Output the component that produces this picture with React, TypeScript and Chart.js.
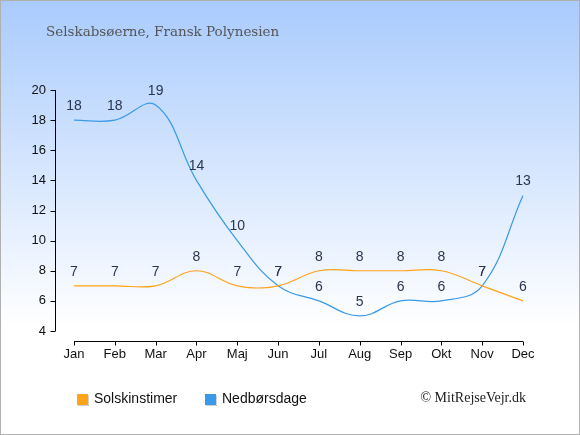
import React, { useEffect, useRef } from "react";
import { Chart, registerables } from "chart.js";

Chart.register(...registerables);

const TITLE = "Selskabsøerne, Fransk Polynesien";
const MONTHS = ["Jan", "Feb", "Mar", "Apr", "Maj", "Jun", "Jul", "Aug", "Sep", "Okt", "Nov", "Dec"];
const SUN_LABEL = "Solskinstimer";
const RAIN_LABEL = "Nedbørsdage";
const SUN = [7, 7, 7, 8, 7, 7, 8, 8, 8, 8, 7, 6];
const RAIN = [18, 18, 19, 14, 10, 7, 6, 5, 6, 6, 7, 13];
const Y_MIN = 4;
const Y_MAX = 20;
const Y_STEP = 2;
const COPYRIGHT = "© MitRejseVejr.dk";

const SUN_COLOR = "#ffa31a";
const RAIN_COLOR = "#3a9ae8";

const decorPlugin = {
  id: "decor",
  beforeDraw(chart: any) {
    const { ctx, width, height } = chart;
    ctx.save();
    const g = ctx.createLinearGradient(0, 0, 0, height);
    g.addColorStop(0, "#a9cbfd");
    g.addColorStop(0.75, "#ffffff");
    g.addColorStop(1, "#ffffff");
    ctx.fillStyle = g;
    ctx.fillRect(0, 0, width, height);
    ctx.strokeStyle = "#b0b0b0";
    ctx.lineWidth = 1;
    ctx.strokeRect(0.5, 0.5, width - 1, height - 1);
    ctx.restore();
  },
  afterDraw(chart: any) {
    const { ctx, chartArea } = chart;
    const xs = chart.scales.x;
    const ys = chart.scales.y;
    ctx.save();
    // title
    ctx.fillStyle = "#555555";
    ctx.font = "13.5px 'DejaVu Serif'";
    ctx.textBaseline = "middle";
    ctx.textAlign = "left";
    ctx.fillText(TITLE, 46, 32);

    // y axis line
    ctx.strokeStyle = "#000";
    ctx.lineWidth = 1;
    const yx = 55.5;
    ctx.beginPath();
    ctx.moveTo(yx, ys.getPixelForValue(Y_MAX));
    ctx.lineTo(yx, ys.getPixelForValue(Y_MIN));
    ctx.stroke();
    for (let v = Y_MIN; v <= Y_MAX; v += Y_STEP) {
      const py = Math.round(ys.getPixelForValue(v)) + 0.5;
      ctx.beginPath();
      ctx.moveTo(yx - 5, py);
      ctx.lineTo(yx, py);
      ctx.stroke();
    }
    // x axis line
    const xy = Math.round(chartArea.bottom) + 10.5;
    ctx.beginPath();
    ctx.moveTo(xs.getPixelForValue(0), xy);
    ctx.lineTo(xs.getPixelForValue(MONTHS.length - 1), xy);
    ctx.stroke();
    MONTHS.forEach((_, i) => {
      const px = Math.round(xs.getPixelForValue(i)) + 0.5;
      ctx.beginPath();
      ctx.moveTo(px, xy);
      ctx.lineTo(px, xy + 4);
      ctx.stroke();
    });

    // data labels
    ctx.font = "14px 'Liberation Sans'";
    ctx.fillStyle = "#2b3550";
    ctx.textAlign = "center";
    ctx.textBaseline = "middle";
    chart.data.datasets.forEach((ds: any, di: number) => {
      const meta = chart.getDatasetMeta(di);
      meta.data.forEach((pt: any, i: number) => {
        ctx.fillText(String(ds.data[i]), pt.x, pt.y - 14);
      });
    });

    // legend
    const items = [
      { label: SUN_LABEL, color: SUN_COLOR, x: 77 },
      { label: RAIN_LABEL, color: RAIN_COLOR, x: 205 },
    ];
    ctx.font = "14px 'Liberation Sans'";
    ctx.textAlign = "left";
    items.forEach((it) => {
      ctx.fillStyle = "rgba(0,0,0,0.18)";
      ctx.fillRect(it.x + 1, 395, 11, 11);
      ctx.fillStyle = it.color;
      ctx.fillRect(it.x, 394, 11, 11);
      ctx.fillStyle = "#111";
      ctx.fillText(it.label, it.x + 17, 399);
    });

    // copyright
    ctx.font = "14px 'Liberation Serif'";
    ctx.fillStyle = "#222";
    ctx.textAlign = "right";
    ctx.fillText(COPYRIGHT, 526, 398);
    ctx.restore();
  },
};

export default function App() {
  const ref = useRef<HTMLCanvasElement | null>(null);
  useEffect(() => {
    if (!ref.current) return;
    const chart = new Chart(ref.current, {
      type: "line",
      data: {
        labels: MONTHS,
        datasets: [
          {
            label: SUN_LABEL,
            data: SUN,
            borderColor: SUN_COLOR,
            borderWidth: 1.2,
            pointRadius: 0,
            tension: 0.4,
            fill: false,
          },
          {
            label: RAIN_LABEL,
            data: RAIN,
            borderColor: RAIN_COLOR,
            borderWidth: 1.2,
            pointRadius: 0,
            tension: 0.4,
            fill: false,
          },
        ],
      },
      options: {
        responsive: false,
        animation: false,
        devicePixelRatio: 1,
        layout: { padding: { top: 90, right: 57, left: 0, bottom: 0 } },
        plugins: {
          legend: { display: false },
          title: { display: false },
          tooltip: { enabled: false },
        },
        scales: {
          x: {
            offset: false,
            grid: { display: false },
            border: { display: false },
            ticks: {
              color: "#111",
              font: { family: "'Liberation Sans'", size: 13 },
              padding: 8,
              maxRotation: 0,
              autoSkip: false,
            },
            afterFit(scale: any) {
              scale.height = 104;
            },
          },
          y: {
            min: Y_MIN,
            max: Y_MAX,
            grid: { display: false },
            border: { display: false },
            ticks: {
              stepSize: Y_STEP,
              color: "#111",
              font: { family: "'Liberation Sans'", size: 13 },
              padding: 20,
            },
            afterFit(scale: any) {
              scale.width = 74;
            },
          },
        },
      },
      plugins: [decorPlugin],
    });
    return () => chart.destroy();
  }, []);
  return (
    <div style={{ position: "absolute", left: 0, top: 0, width: 580, height: 435 }}>
      <canvas ref={ref} width={580} height={435} style={{ display: "block", width: 580, height: 435 }} />
    </div>
  );
}
